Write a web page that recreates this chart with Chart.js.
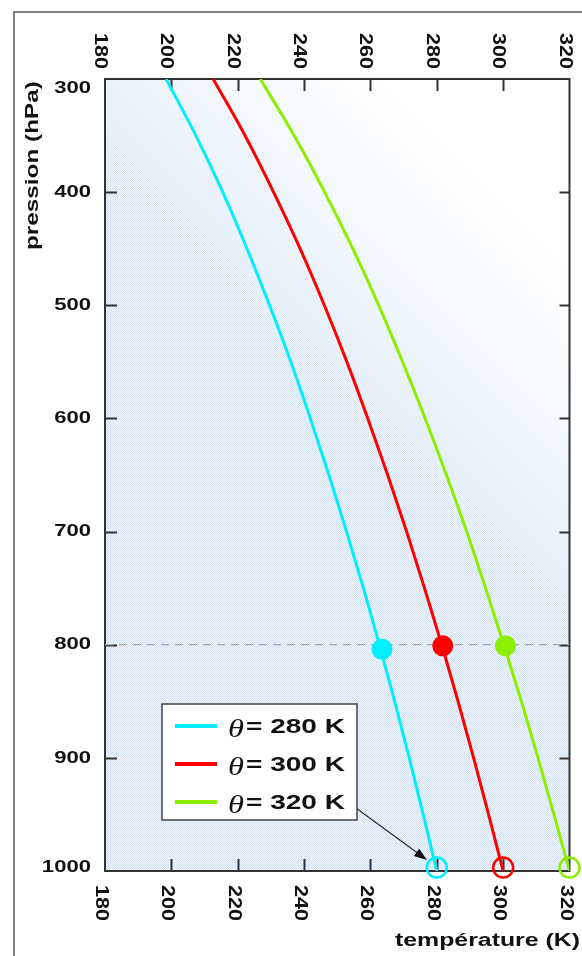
<!DOCTYPE html>
<html>
<head>
<meta charset="utf-8">
<script src="https://cdn.jsdelivr.net/npm/chart.js@4.4.1/dist/chart.umd.min.js"></script>
<style>
  html, body { margin: 0; padding: 0; background: #fff; }
  canvas { display: block; }
</style>
</head>
<body>
<canvas id="chart" width="582" height="956"></canvas>
<script>
// pressure levels (hPa) and temperature of each isentrope (K)
const pressures = [300, 350, 400, 450, 500, 550, 600, 650, 700, 750, 800, 850, 900, 950, 1000];
const theta280 = [198.4, 207.4, 215.5, 222.8, 229.6, 236.0, 241.9, 247.5, 252.8, 257.9, 262.7, 267.3, 271.7, 275.9, 280];
const theta300 = [212.6, 222.2, 230.8, 238.8, 246.1, 252.9, 259.2, 265.2, 270.9, 276.3, 281.5, 286.4, 291.1, 295.6, 300];
const theta320 = [226.8, 237.0, 246.2, 254.7, 262.5, 269.7, 276.5, 282.9, 289.0, 294.7, 300.2, 305.5, 310.5, 315.3, 320];
const seriesLabels = ['θ= 280 K', 'θ= 300 K', 'θ= 320 K'];

// parcels near 800 hPa (filled) and at the surface (open)
const dotTemps = [263.5, 281.8, 300.7];
const dotPressures = [804, 801, 801];
const ringTemps = [280, 300, 320];
const ringPressures = [997, 997, 997];
const dashPressure = 800;

const tempTicks = [180, 200, 220, 240, 260, 280, 300, 320];
const pressureTicks = [300, 400, 500, 600, 700, 800, 900, 1000];

const colors = ['#00eeff', '#ff0000', '#8cee00'];
const series = [theta280, theta300, theta320];

function drawText(ctx, text, x, y, o) {
    ctx.save();
    ctx.translate(x, y);
    ctx.rotate(o.angle || 0);
    ctx.scale(o.sx || 1, 1);
    ctx.font = o.font;
    ctx.textAlign = o.align || 'left';
    ctx.textBaseline = o.baseline || 'alphabetic';
    ctx.fillStyle = o.color || '#111';
    ctx.fillText(text, 0, 0);
    ctx.restore();
}

// dotted light blue texture
const tile = document.createElement('canvas');
tile.width = 2; tile.height = 2;
const tctx = tile.getContext('2d');
tctx.fillStyle = '#eef4fb'; tctx.fillRect(0, 0, 2, 2);
tctx.fillStyle = '#d1e2f4'; tctx.fillRect(0, 0, 1, 1);
tctx.fillStyle = '#dde0f6'; tctx.fillRect(1, 1, 1, 1);

const decor = {
    id: 'decor',
    beforeDraw(chart) {
        const { ctx, chartArea: a } = chart;
        ctx.save();
        ctx.fillStyle = '#fff';
        ctx.fillRect(0, 0, chart.width, chart.height);
        ctx.fillStyle = ctx.createPattern(tile, 'repeat');
        ctx.fillRect(a.left, a.top, a.width, a.height);
        const g = ctx.createLinearGradient(a.left - 5, a.top + 121, a.left + 195, a.top - 79);
        g.addColorStop(0, 'rgba(255,255,255,0)');
        g.addColorStop(0.55, 'rgba(255,255,255,0.6)');
        g.addColorStop(1, 'rgba(255,255,255,1)');
        ctx.fillStyle = g;
        ctx.fillRect(a.left, a.top, a.width, a.height);
        // outer frame
        ctx.strokeStyle = '#555';
        ctx.lineWidth = 1.5;
        ctx.strokeRect(14, 12, 700, 1100);
        ctx.restore();
    },
    beforeDatasetsDraw(chart) {
        const { ctx, chartArea: a, scales } = chart;
        ctx.save();
        ctx.strokeStyle = '#333';
        ctx.lineWidth = 2;
        ctx.strokeRect(a.left, a.top, a.width, a.height);
        ctx.beginPath();
        tempTicks.slice(1, -1).forEach(v => {
            const px = Math.round(scales.x.getPixelForValue(v)) + 0.5;
            ctx.moveTo(px, a.top); ctx.lineTo(px, a.top + 12);
            ctx.moveTo(px, a.bottom); ctx.lineTo(px, a.bottom - 12);
        });
        pressureTicks.slice(1, -1).forEach(v => {
            const py = Math.round(scales.y.getPixelForValue(v)) + 0.5;
            ctx.moveTo(a.left, py); ctx.lineTo(a.left + 12, py);
            ctx.moveTo(a.right, py); ctx.lineTo(a.right - 10, py);
        });
        ctx.stroke();
        ctx.restore();
    },
    afterDraw(chart) {
        const { ctx, chartArea: a, scales } = chart;
        const tickFont = 'bold 18px "Liberation Sans"';
        tempTicks.forEach(v => {
            const px = scales.x.getPixelForValue(v);
            drawText(ctx, String(v), px - 10, 33, { font: tickFont, sx: 1.2, angle: Math.PI / 2 });
            drawText(ctx, String(v), px - 9, 885, { font: tickFont, sx: 1.2, angle: Math.PI / 2 });
        });
        pressureTicks.forEach(v => {
            const py = Math.max(a.top + 9, Math.min(a.bottom - 4, scales.y.getPixelForValue(v)));
            drawText(ctx, String(v), 91, py, { font: 'bold 17px "Liberation Sans"', sx: 1.3, align: 'right', baseline: 'middle' });
        });
        drawText(ctx, 'pression (hPa)', 38, 250, { font: 'bold 18px "Liberation Sans"', sx: 1.35, angle: -Math.PI / 2 });
        drawText(ctx, 'température (K)', 395, 946, { font: 'bold 18px "Liberation Sans"', sx: 1.38 });

        // arrow from legend to the 280 K surface parcel
        ctx.save();
        ctx.strokeStyle = '#333';
        ctx.fillStyle = '#111';
        ctx.lineWidth = 1.3;
        const x0 = 356, y0 = 808, x1 = 427, y1 = 860;
        const ang = Math.atan2(y1 - y0, x1 - x0);
        ctx.beginPath();
        ctx.moveTo(x0, y0);
        ctx.lineTo(x1 - 10 * Math.cos(ang), y1 - 10 * Math.sin(ang));
        ctx.stroke();
        ctx.beginPath();
        ctx.moveTo(x1, y1);
        ctx.lineTo(x1 - 13 * Math.cos(ang) + 4.5 * Math.sin(ang), y1 - 13 * Math.sin(ang) - 4.5 * Math.cos(ang));
        ctx.lineTo(x1 - 13 * Math.cos(ang) - 4.5 * Math.sin(ang), y1 - 13 * Math.sin(ang) + 4.5 * Math.cos(ang));
        ctx.closePath();
        ctx.fill();

        // legend box
        ctx.fillStyle = '#fff';
        ctx.fillRect(162, 704, 195, 116);
        ctx.strokeStyle = '#444';
        ctx.lineWidth = 1.5;
        ctx.strokeRect(162, 704, 195, 116);
        seriesLabels.forEach((label, i) => {
            const y = 726 + 38 * i;
            ctx.strokeStyle = colors[i];
            ctx.lineWidth = 4;
            ctx.beginPath();
            ctx.moveTo(175, y); ctx.lineTo(217, y);
            ctx.stroke();
            const [sym, rest] = label.split('=');
            drawText(ctx, sym, 228, y + 11, { font: 'italic 26px "Liberation Serif"', sx: 1.25 });
            drawText(ctx, '=' + rest, 246, y + 7, { font: 'bold 20px "Liberation Sans"', sx: 1.4 });
        });
        ctx.restore();
    }
};

const datasets = [{
    label: 'dash',
    data: [{ x: 180, y: dashPressure }, { x: 320, y: dashPressure }],
    showLine: true,
    borderColor: '#aaaaaa',
    borderWidth: 1.2,
    borderDash: [8, 6],
    pointRadius: 0,
    order: 5
}];
series.forEach((vals, i) => {
    datasets.push({
        label: seriesLabels[i],
        data: vals.map((t, j) => ({ x: t, y: pressures[j] })),
        showLine: true,
        cubicInterpolationMode: 'monotone',
        borderColor: colors[i],
        borderWidth: 3,
        pointRadius: 0,
        order: 3
    });
    datasets.push({
        label: seriesLabels[i] + ' 800',
        data: [{ x: dotTemps[i], y: dotPressures[i] }],
        pointRadius: 10.5,
        pointBackgroundColor: colors[i],
        pointBorderWidth: 0,
        clip: false,
        order: 1
    });
    datasets.push({
        label: seriesLabels[i] + ' 1000',
        data: [{ x: ringTemps[i], y: ringPressures[i] }],
        pointRadius: 10,
        pointBackgroundColor: 'rgba(0,0,0,0)',
        pointBorderColor: colors[i],
        pointBorderWidth: 2.5,
        clip: false,
        order: 1
    });
});

const hiddenAxis = {
    type: 'linear',
    ticks: { display: false },
    grid: { display: false },
    border: { display: false }
};

new Chart(document.getElementById('chart'), {
    type: 'scatter',
    data: { datasets: datasets },
    options: {
        responsive: false,
        animation: false,
        layout: { padding: 0 },
        plugins: {
            legend: { display: false },
            tooltip: { enabled: false }
        },
        scales: {
            x: { ...hiddenAxis, position: 'bottom', min: 180, max: 320, afterFit: s => { s.height = 85; } },
            x2: { ...hiddenAxis, position: 'top', min: 180, max: 320, afterFit: s => { s.height = 79; } },
            y: { ...hiddenAxis, position: 'left', reverse: true, min: 300, max: 1000, afterFit: s => { s.width = 105; } },
            y2: { ...hiddenAxis, position: 'right', reverse: true, min: 300, max: 1000, afterFit: s => { s.width = 4; } }
        }
    },
    plugins: [decor]
});
</script>
</body>
</html>
